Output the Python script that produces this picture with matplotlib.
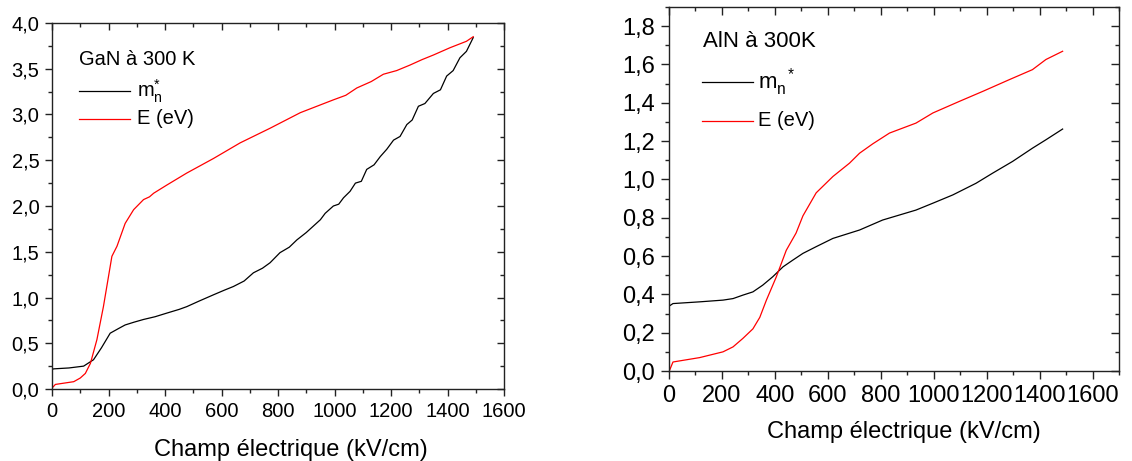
import matplotlib
matplotlib.use("Agg")
import matplotlib.pyplot as plt
from matplotlib.ticker import MultipleLocator, FuncFormatter, NullFormatter

plt.rcParams['font.family'] = ['Liberation Sans', 'DejaVu Sans']
plt.rcParams['mathtext.fontset'] = 'custom'
plt.rcParams['mathtext.rm'] = 'Liberation Sans'
plt.rcParams['mathtext.it'] = 'Liberation Sans'

# GaN à 300 K
gan_m_x = [0, 5, 60, 112, 147, 175, 206, 235, 259, 290, 324, 365, 407, 450, 477, 520,
           572, 610, 642, 680, 713, 745, 772, 807, 840, 867, 900, 925, 950, 967, 996,
           1015, 1032, 1055, 1074, 1095, 1114, 1140, 1162, 1185, 1209, 1232, 1256,
           1275, 1297, 1320, 1350, 1375, 1397, 1420, 1444, 1467, 1491]
gan_m_y = [0.21, 0.22, 0.23, 0.25, 0.32, 0.45, 0.61, 0.66, 0.70, 0.73, 0.76, 0.79,
           0.83, 0.87, 0.90, 0.96, 1.03, 1.08, 1.12, 1.18, 1.27, 1.32, 1.38, 1.49,
           1.55, 1.63, 1.71, 1.78, 1.85, 1.92, 2.00, 2.02, 2.09, 2.16, 2.25, 2.27,
           2.40, 2.45, 2.54, 2.62, 2.72, 2.76, 2.89, 2.94, 3.09, 3.12, 3.23, 3.27,
           3.42, 3.48, 3.62, 3.69, 3.84]
gan_e_x = [0, 12, 77, 100, 118, 136, 159, 182, 212, 230, 259, 289, 324, 345, 360, 407,
           477, 572, 666, 772, 879, 996, 1040, 1079, 1130, 1173, 1220, 1267, 1310,
           1350, 1409, 1467, 1491]
gan_e_y = [0.01, 0.05, 0.08, 0.12, 0.17, 0.28, 0.54, 0.90, 1.45, 1.56, 1.81, 1.96,
           2.07, 2.10, 2.14, 2.23, 2.36, 2.52, 2.69, 2.85, 3.02, 3.16, 3.21, 3.29,
           3.36, 3.44, 3.48, 3.54, 3.60, 3.65, 3.73, 3.80, 3.85]

# AlN à 300K
aln_m_x = [2, 15, 116, 204, 242, 279, 317, 354, 392, 431, 468, 506, 556, 619, 720,
           807, 933, 997, 1072, 1160, 1223, 1298, 1373, 1424, 1487]
aln_m_y = [0.34, 0.352, 0.361, 0.370, 0.378, 0.396, 0.413, 0.448, 0.492, 0.544,
           0.579, 0.614, 0.649, 0.692, 0.736, 0.788, 0.840, 0.876, 0.919, 0.980,
           1.033, 1.094, 1.163, 1.207, 1.263]
aln_e_x = [2, 15, 116, 204, 242, 279, 317, 343, 368, 405, 443, 480, 506, 556, 619,
           682, 720, 770, 833, 933, 997, 1098, 1186, 1286, 1373, 1424, 1487]
aln_e_y = [0.003, 0.047, 0.070, 0.100, 0.126, 0.170, 0.220, 0.280, 0.370, 0.490,
           0.630, 0.720, 0.810, 0.930, 1.015, 1.085, 1.137, 1.186, 1.242, 1.294,
           1.347, 1.408, 1.460, 1.521, 1.573, 1.626, 1.669]

W, H = 1132, 461
fig = plt.figure(figsize=(W / 100, H / 100), dpi=100)
ax1 = fig.add_axes([52 / W, (H - 389) / H, 452 / W, 366 / H])
ax2 = fig.add_axes([669 / W, (H - 371) / H, 450 / W, 364 / H])

comma = FuncFormatter(lambda v, p: f"{v:.1f}".replace('.', ','))


def style(ax, xmax, ymaj, ymin, ylim, tsize, maj_len):
    ax.set_xlim(0, xmax)
    ax.set_ylim(*ylim)
    ax.xaxis.set_major_locator(MultipleLocator(200))
    ax.xaxis.set_minor_locator(MultipleLocator(100))
    ax.yaxis.set_major_locator(MultipleLocator(ymaj))
    ax.yaxis.set_minor_locator(MultipleLocator(ymin))
    ax.yaxis.set_major_formatter(comma)
    for s in ax.spines.values():
        s.set_linewidth(1.0)
        s.set_color('#222222')
    ax.tick_params(which='both', direction='out', top=False, right=False,
                   color='#222222', width=1.0, labelsize=tsize)
    ax.tick_params(which='major', length=maj_len, pad=4)
    ax.tick_params(which='minor', length=3)

    # inward ticks on the top and right edges, no labels
    tx = ax.twiny()
    ty = ax.twinx()
    tx.set_xlim(ax.get_xlim())
    ty.set_ylim(ax.get_ylim())
    tx.xaxis.set_major_locator(MultipleLocator(200))
    tx.xaxis.set_minor_locator(MultipleLocator(100))
    ty.yaxis.set_major_locator(MultipleLocator(ymaj))
    ty.yaxis.set_minor_locator(MultipleLocator(ymin))
    tx.xaxis.set_major_formatter(NullFormatter())
    ty.yaxis.set_major_formatter(NullFormatter())
    for t in (tx, ty):
        t.tick_params(which='both', direction='in', color='#222222', width=1.0)
        t.tick_params(which='major', length=maj_len)
        t.tick_params(which='minor', length=3)
        for s in t.spines.values():
            s.set_visible(False)


style(ax1, 1600, 0.5, 0.25, (0, 4.0), 14.5, 5)
style(ax2, 1700, 0.2, 0.1, (0, 1.9), 17, 6)
ax1.set_xlabel("Champ électrique (kV/cm)", fontsize=17)
ax1.xaxis.set_label_coords(0.528, -0.136)
ax1.xaxis.label.set_va('top')
ax2.set_xlabel("Champ électrique (kV/cm)", fontsize=17)
ax2.xaxis.set_label_coords(0.522, -0.137)
ax2.xaxis.label.set_va('top')

ax1.plot(gan_m_x, gan_m_y, color='black', lw=0.9)
ax1.plot(gan_e_x, gan_e_y, color='#ff0000', lw=0.9)
ax2.plot(aln_m_x, aln_m_y, color='black', lw=0.9)
ax2.plot(aln_e_x, aln_e_y, color='#ff0000', lw=0.9)


def legend_block(ax, title, tx, ty, y1, y2, x0, x1, lx, tsize, msize, esize, mlabel):
    ax.text(tx, ty, title, transform=ax.transAxes, fontsize=tsize, va='center', ha='left')
    ax.plot([x0, x1], [y1, y1], transform=ax.transAxes, color='black', lw=0.9)
    ax.plot([x0, x1], [y2, y2], transform=ax.transAxes, color='#ff0000', lw=0.9)
    ax.text(lx, y1, mlabel, transform=ax.transAxes,
            fontsize=msize, va='center', ha='left')
    ax.text(lx, y2, "E (eV)", transform=ax.transAxes, fontsize=esize,
            va='center', ha='left')


legend_block(ax1, "GaN à 300 K", 0.06, 0.90, 0.814, 0.738, 0.06, 0.173, 0.188,
             14.5, 14.5, 14.5, r'$\mathregular{m_n^{*}}$')
legend_block(ax2, "AlN à 300K", 0.076, 0.904, 0.794, 0.687, 0.073, 0.186, 0.198,
             16, 16, 14.5, r'$\mathregular{m_n^{\ \ *}}$')

fig.savefig("out.png", dpi=100)
